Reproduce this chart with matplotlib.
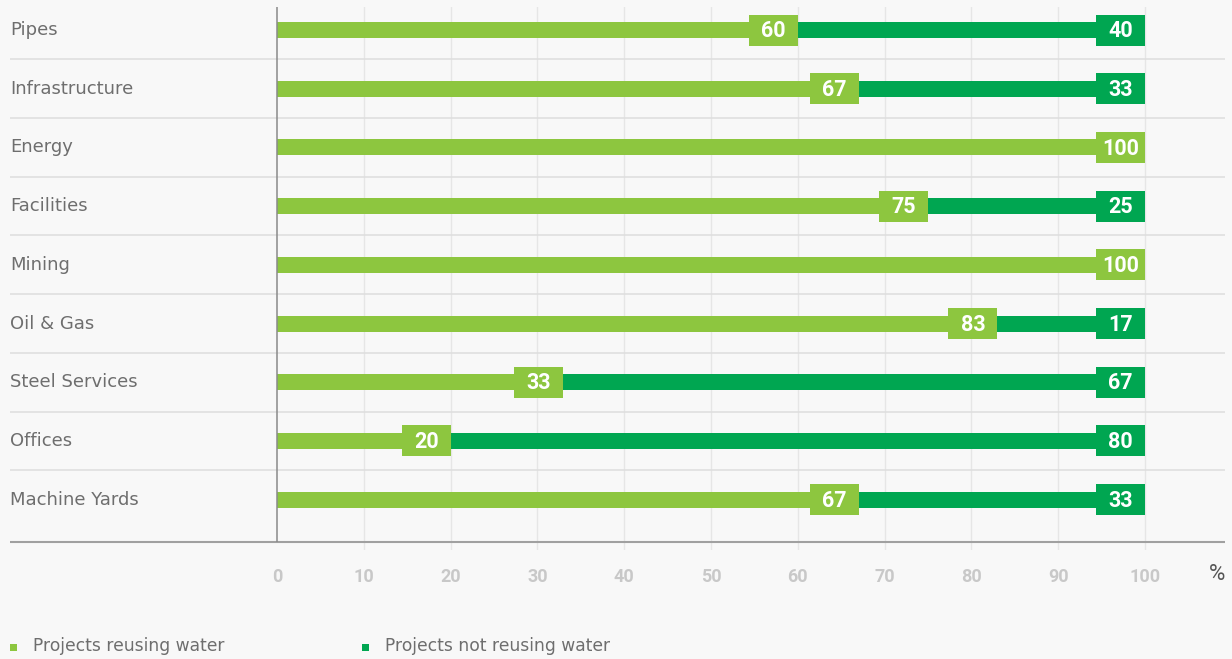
import matplotlib.pyplot as plt
from matplotlib.patches import Rectangle
from matplotlib.transforms import blended_transform_factory

# data (percent of projects)
categories = ["Pipes", "Infrastructure", "Energy", "Facilities", "Mining",
              "Oil & Gas", "Steel Services", "Offices", "Machine Yards"]
reusing = [60, 67, 100, 75, 100, 83, 33, 20, 67]
not_reusing = [40, 33, 0, 25, 0, 17, 67, 80, 33]
xticks = [0, 10, 20, 30, 40, 50, 60, 70, 80, 90, 100]
legend_labels = ["Projects reusing water", "Projects not reusing water"]

LIGHT = "#8dc63f"
DARK = "#00a651"
BG = "#f8f8f8"
TXT = "#6e6e6e"
LABEL_FONT = ['DejaVu Sans']

plt.rcParams['font.family'] = ['Roboto', 'DejaVu Sans']

fig = plt.figure(figsize=(12.32, 6.59), dpi=100, facecolor=BG)
W, H = 1232, 659
# axes spans pixel x 10..1225, y 7..550
ax = fig.add_axes([10 / W, 1 - 550 / H, 1215 / W, 543 / H], facecolor=BG)

px_per_unit = 8.68
ax.set_xlim((10 - 277) / px_per_unit, (1225 - 277) / px_per_unit)
row_px = 58.7
ax.set_ylim((550 - 30) / row_px, (7 - 30) / row_px)
bottom_line = (542 - 30) / row_px
top_y = ax.get_ylim()[1]

ypos = list(range(len(categories)))
bar_h = 16 / row_px
box_h = 31 / row_px
box_w = 49 / px_per_unit

# vertical grid
for t in xticks[1:]:
    ax.axvline(t, color="#e6e6e6", lw=1.0, zorder=0)

# row separators
for i in ypos[:-1]:
    ax.axhline(i + 0.5, color="#dddddd", lw=1.1, zorder=1)

ax.axhline(bottom_line, color="#a0a0a0", lw=1.5, zorder=2)
ax.plot([0, 0], [top_y, bottom_line], color="#8a8a8a", lw=1.1, zorder=5,
        solid_capstyle='butt')

# thin bars
ax.barh(ypos, reusing, height=bar_h, color=LIGHT, zorder=3)
ax.barh(ypos, not_reusing, left=reusing, height=bar_h, color=DARK, zorder=3)

# value boxes
for y, r, n in zip(ypos, reusing, not_reusing):
    ax.add_patch(Rectangle((r - box_w, y - box_h / 2), box_w, box_h,
                           facecolor=LIGHT, edgecolor='none', zorder=4))
    ax.text(r - box_w / 2, y + 0.02, str(r), color="white", fontsize=15.5,
            fontweight='bold', ha='center', va='center', zorder=6)
    if n > 0:
        ax.add_patch(Rectangle((100 - box_w, y - box_h / 2), box_w, box_h,
                               facecolor=DARK, edgecolor='none', zorder=4))
        ax.text(100 - box_w / 2, y + 0.02, str(n), color="white", fontsize=15.5,
                fontweight='bold', ha='center', va='center', zorder=6)

# category labels
trans = blended_transform_factory(ax.transAxes, ax.transData)
for y, c in zip(ypos, categories):
    ax.text(0, y, c, transform=trans, ha='left', va='center',
            fontsize=13, color=TXT, family=LABEL_FONT)

ax.set_xticks(xticks)
ax.set_xticklabels([str(t) for t in xticks], fontsize=13, fontweight='bold',
                   color="#c8c8c8")
ax.tick_params(axis='x', length=0, pad=13)
ax.set_yticks([])
for s in ax.spines.values():
    s.set_visible(False)

ax.text(1225 / W, 1 - 575 / H, "%", transform=fig.transFigure, ha='right',
        va='center', fontsize=16, color="#555555")

# legend
for x0, lab, col in [(10, legend_labels[0], LIGHT), (362, legend_labels[1], DARK)]:
    fig.patches.append(Rectangle((x0 / W, 1 - 651 / H), 7 / W, 7 / H,
                                 transform=fig.transFigure, facecolor=col,
                                 edgecolor='none'))
    fig.text((x0 + 23) / W, 1 - 646 / H, lab, ha='left', va='center',
             fontsize=12.3, color=TXT, family=LABEL_FONT)

fig.savefig("out.png", dpi=100, facecolor=BG)
